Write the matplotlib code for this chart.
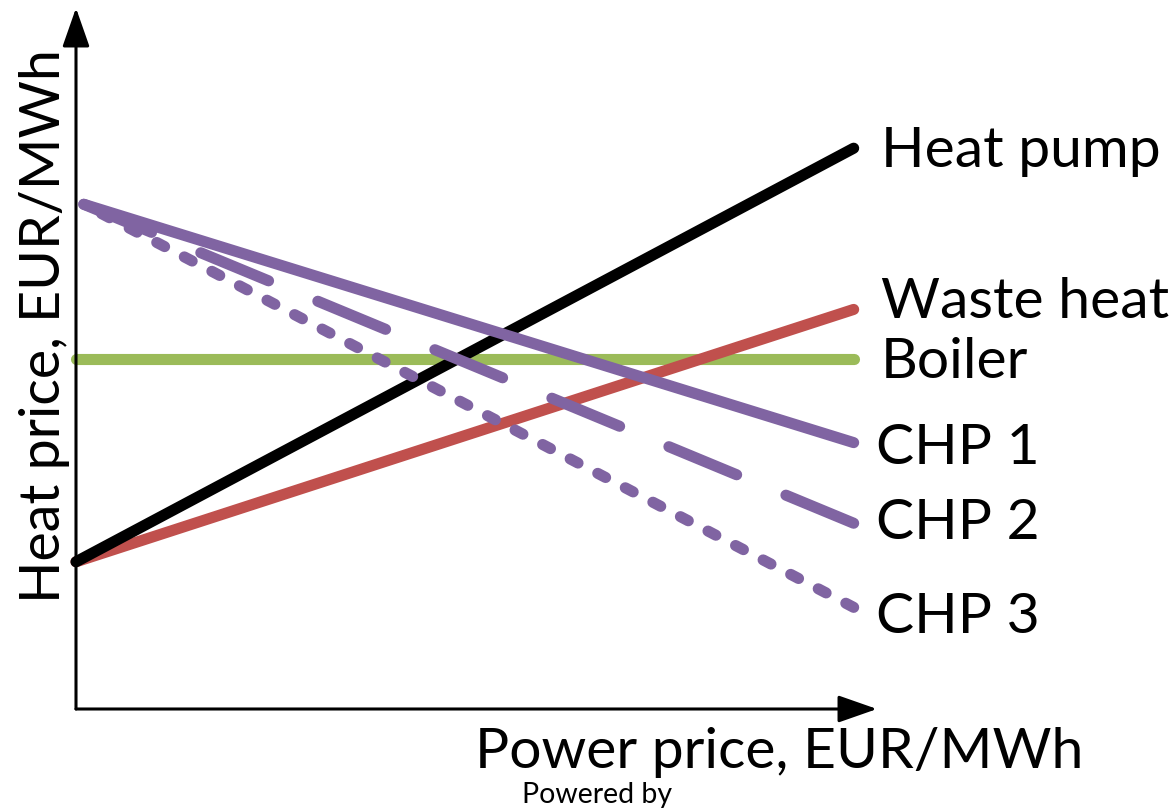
import matplotlib.pyplot as plt

plt.rcParams['font.family'] = ['Lato', 'DejaVu Sans']

# power price (arbitrary units) and heat price for each technology
x_start = [0, 100]
x_chp = [1, 100]
heat_pump = [21, 80]
waste_heat = [21, 57]
boiler = [50, 50]
chp1 = [72, 38]
chp2 = [72, 26.5]
chp3 = [72, 14.5]

names = ["Heat pump", "Waste heat", "Boiler", "CHP 1", "CHP 2", "CHP 3"]
# baseline height of each label (data units)
label_y = [77.3, 55.8, 47.2, 34.9, 24.3, 10.8]

W, H = 1176, 811
fig = plt.figure(figsize=(W / 100, H / 100), dpi=100)
ax = fig.add_axes([76 / W, (H - 709) / H, 801 / W, 701 / H])
ax.set_xlim(0, 103)
ax.set_ylim(0, 100)
ax.axis("off")

lw = 8
common = dict(lw=lw, solid_capstyle="round", dash_capstyle="round", clip_on=False)
ax.plot(x_start, boiler, color="#9BBB59", **common)
ax.plot(x_start, waste_heat, color="#C0504D", **common)
ax.plot(x_start, heat_pump, color="black", **common)
# dashed lines drawn from the right end so the pattern ends on a dash
ax.plot(x_chp[::-1], chp3[::-1], color="#8064A2", dashes=(0.8, 2.0), **common)
ax.plot(x_chp[::-1], chp2[::-1], color="#8064A2", dashes=(6.6, 4.8), **common)
ax.plot(x_chp, chp1, color="#8064A2", **common)

for name, yy in zip(names, label_y):
    xx = 102.9 if name.startswith("CHP") else 103.5
    ax.text(xx, yy, name, fontsize=41, va="baseline", ha="left", clip_on=False)

# axes with arrow heads
arrow = dict(arrowstyle="-|>,head_length=1.2,head_width=0.42", mutation_scale=20,
             lw=2.2, color="black", shrinkA=0, shrinkB=0)
ax.annotate("", xy=(0, 1), xytext=(0, 0), xycoords="axes fraction",
            textcoords="axes fraction", arrowprops=arrow)
ax.annotate("", xy=(1, 0), xytext=(0, 0), xycoords="axes fraction",
            textcoords="axes fraction", arrowprops=arrow)

fig.text(475 / W, 1 - 768 / H, "Power price, EUR/MWh", fontsize=41,
         ha="left", va="baseline")
fig.text(60 / W, 1 - 603 / H, "Heat price, EUR/MWh", fontsize=40,
         rotation=90, rotation_mode="anchor", ha="left", va="baseline")
fig.text(522 / W, 1 - 803 / H, "Powered by", fontsize=20.5, ha="left",
         va="baseline")

fig.savefig("out.png", dpi=100)
